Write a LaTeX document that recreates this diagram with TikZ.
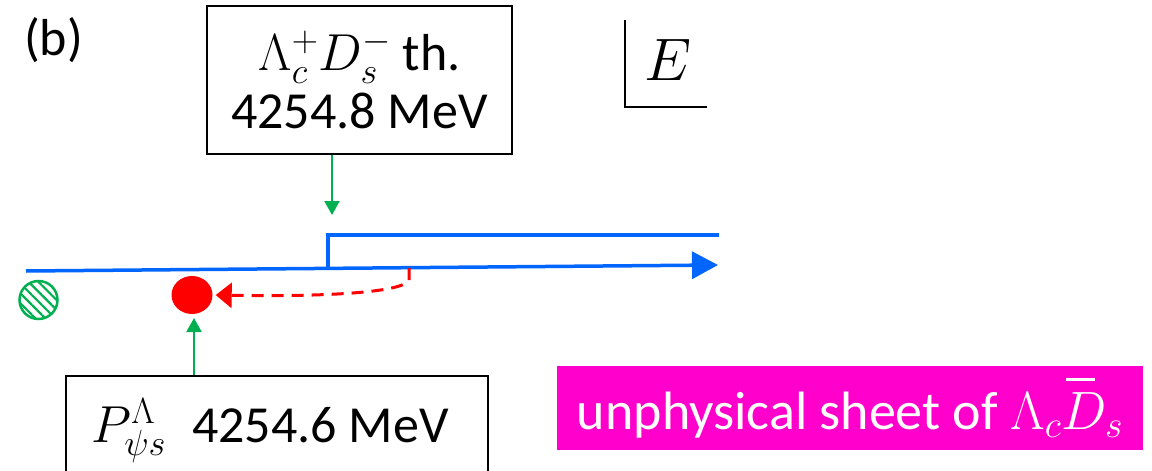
\RequirePackage{fix-cm}
\documentclass[tikz,border=0pt]{standalone}
\usepackage{fontspec}
\setmainfont{Carlito}
\usetikzlibrary{arrows.meta,patterns.meta,shapes.geometric}
\definecolor{ogreen}{RGB}{0,176,80}
\definecolor{oblue}{RGB}{0,102,255}
\definecolor{opink}{RGB}{255,0,204}
\newcommand\barredD{\rlap{\hspace{0.08em}\rule[0.9em]{0.55em}{3pt}}D}
\tikzset{
  blueline/.style={draw=oblue,line width=3.5pt},
  greenarrow/.style={draw=ogreen,line width=2pt,-{Triangle[length=14pt,width=15pt]}},
  reddash/.style={draw=red,line width=3pt,dash pattern=on 12pt off 8pt,-{Triangle[length=16pt,width=25pt]}},
  labelbox/.style={draw=black,line width=1.5pt,fill=white,inner sep=0pt,align=center},
  bigtext/.style={font=\fontsize{52}{58}\selectfont}
}
\begin{document}
\begin{tikzpicture}[x=1pt,y=-1pt]
\useasboundingbox (0,0) rectangle (1152,471);
\clip (0,0) rectangle (1152,471);
% label (b)
\node[bigtext,anchor=west,inner sep=0pt] (tag) at (24,40) {(b)};
% energy axis symbol
\coordinate (etop) at (625,20);
\coordinate (ecorner) at (625,107);
\coordinate (eright) at (707,107);
\draw[line width=2.5pt] (etop) -- (ecorner) -- (eright);
\node[font=\fontsize{60}{60}\selectfont] (E) at (668,60) {$E$};
% axis
\coordinate (axL) at (26,271);
\coordinate (axR) at (718,265);
\draw[blueline,-{Triangle[length=26pt,width=27pt]}] (axL) -- (axR);
% threshold cut
\coordinate (thbase) at (328,268.5);
\coordinate (thcorner) at (328,235);
\coordinate (thend) at (719,235);
\draw[blueline] (thbase) -- (thcorner) -- (thend);
% threshold box
\node[labelbox,bigtext,minimum width=305pt,minimum height=148pt] (thbox) at (359.5,80)
  {$\Lambda_c^+D_s^-$ th.\\4254.8 MeV};
\coordinate (thtip) at (332,215);
\draw[greenarrow] ([xshift=-27.5pt]thbox.south) -- (thtip);
% mirror pole (hatched)
\node[circle,draw=ogreen,line width=2.5pt,minimum size=38pt,inner sep=0pt,
  pattern={Lines[angle=-45,distance=7pt,line width=2.2pt]},pattern color=ogreen] (mirror) at (38.5,300) {};
% pole
\node[ellipse,fill=red,minimum width=41pt,minimum height=38pt,inner sep=0pt] (pole) at (192,295) {};
% trajectory
\coordinate (start) at (409,268);
\draw[reddash,shorten >=3pt] (start) -- (409,280) .. controls (404,292) and (330,297) .. (pole.east);
% pole box
\node[labelbox,bigtext,anchor=north,minimum width=422pt,minimum height=110pt] (polebox) at (277,375)
  {\raisebox{6pt}{\hspace{-14pt}$P^{\Lambda}_{\psi s}$\enspace 4254.6 MeV}};
\coordinate (poletip) at (194,318);
\draw[greenarrow] ([xshift=-83pt]polebox.north) -- (poletip);
% sheet label
\node[fill=opink,text=white,font=\fontsize{54}{54}\selectfont,minimum width=586pt,minimum height=84pt,inner sep=0pt] (sheet) at (850,408)
  {unphysical sheet of $\Lambda_c\barredD_s$};
\end{tikzpicture}
\end{document}
